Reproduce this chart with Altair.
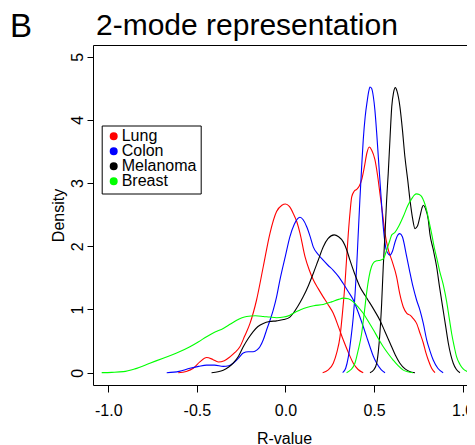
import altair as alt
import pandas as pd

# ---- data ----
groups = ["Lung", "Colon", "Melanoma", "Breast"]
colors = ["#FF0000", "#0000FF", "#000000", "#00FF00"]

lung_low_x = [-0.605, -0.56, -0.52, -0.483, -0.445, -0.41, -0.379, -0.345, -0.313, -0.285, -0.257, -0.23, -0.2, -0.163, -0.125, -0.087, -0.05, -0.02, 0.0, 0.022, 0.044, 0.065, 0.082, 0.11, 0.135, 0.157, 0.185, 0.213, 0.24, 0.27, 0.30, 0.326, 0.355, 0.383, 0.41, 0.439]
lung_low_y = [0, 0.02, 0.07, 0.17, 0.24, 0.21, 0.17, 0.19, 0.25, 0.32, 0.41, 0.58, 0.78, 1.15, 1.68, 2.21, 2.55, 2.65, 2.67, 2.63, 2.52, 2.38, 2.21, 1.84, 1.62, 1.47, 1.33, 1.2, 1.08, 0.94, 0.72, 0.52, 0.32, 0.15, 0.05, 0]

lung_high_x = [0.21, 0.24, 0.27, 0.29, 0.308, 0.322, 0.336, 0.345, 0.355, 0.365, 0.374, 0.388, 0.402, 0.416, 0.43, 0.445, 0.46, 0.473, 0.487, 0.505, 0.52, 0.533, 0.548, 0.562, 0.58, 0.60, 0.627, 0.645, 0.665, 0.685, 0.703, 0.72, 0.74, 0.76, 0.778, 0.792, 0.806, 0.825, 0.844]
lung_high_y = [0, 0.04, 0.15, 0.32, 0.57, 0.95, 1.41, 1.8, 2.21, 2.55, 2.78, 2.87, 2.9, 2.95, 3.05, 3.25, 3.48, 3.57, 3.52, 3.37, 3.12, 2.84, 2.52, 2.2, 1.95, 1.78, 1.52, 1.25, 1.04, 0.94, 0.91, 0.86, 0.78, 0.62, 0.47, 0.32, 0.2, 0.07, 0]

colon_low_x = [-0.67, -0.6, -0.539, -0.49, -0.445, -0.40, -0.351, -0.32, -0.295, -0.265, -0.238, -0.21, -0.182, -0.16, -0.144, -0.125, -0.106, -0.087, -0.069, -0.05, -0.031, 0.0, 0.025, 0.05, 0.082, 0.10, 0.12, 0.14, 0.157, 0.185, 0.213, 0.24, 0.27, 0.30, 0.326, 0.355, 0.383, 0.41, 0.439, 0.458, 0.477, 0.496, 0.515, 0.54, 0.562]
colon_low_y = [0, 0.02, 0.07, 0.1, 0.12, 0.12, 0.1, 0.11, 0.15, 0.23, 0.31, 0.33, 0.33, 0.36, 0.41, 0.52, 0.68, 0.83, 0.99, 1.2, 1.47, 1.85, 2.15, 2.35, 2.46, 2.42, 2.31, 2.15, 1.99, 1.87, 1.78, 1.7, 1.62, 1.52, 1.41, 1.28, 1.15, 0.96, 0.73, 0.57, 0.41, 0.26, 0.15, 0.05, 0]

colon_high_x = [0.323, 0.34, 0.355, 0.37, 0.383, 0.393, 0.402, 0.41, 0.42, 0.43, 0.439, 0.45, 0.462, 0.47, 0.477, 0.486, 0.496, 0.505, 0.515, 0.524, 0.533, 0.543, 0.552, 0.562, 0.575, 0.59, 0.605, 0.62, 0.635, 0.646, 0.66, 0.684, 0.70, 0.72, 0.74, 0.759, 0.778, 0.797, 0.815, 0.834, 0.86, 0.89]
colon_high_y = [0, 0.07, 0.25, 0.55, 0.89, 1.25, 1.68, 2.15, 2.73, 3.25, 3.68, 4.05, 4.31, 4.45, 4.52, 4.5, 4.37, 4.15, 3.79, 3.42, 3.05, 2.65, 2.31, 2.05, 1.9, 1.86, 1.93, 2.08, 2.18, 2.2, 2.15, 1.84, 1.62, 1.36, 1.15, 0.99, 0.78, 0.52, 0.35, 0.2, 0.07, 0]

mel_low_x = [-0.417, -0.38, -0.351, -0.32, -0.295, -0.265, -0.238, -0.21, -0.182, -0.155, -0.125, -0.09, -0.05, -0.01, 0.025, 0.044, 0.07, 0.1, 0.13, 0.157, 0.185, 0.213, 0.24, 0.275, 0.30, 0.326, 0.345, 0.364, 0.39, 0.42, 0.45, 0.477, 0.505, 0.533, 0.56, 0.59, 0.62, 0.646, 0.675, 0.70, 0.731]
mel_low_y = [0, 0.015, 0.04, 0.09, 0.15, 0.26, 0.41, 0.54, 0.65, 0.73, 0.78, 0.81, 0.82, 0.84, 0.88, 0.94, 1.05, 1.2, 1.38, 1.57, 1.78, 1.99, 2.12, 2.18, 2.15, 2.07, 1.95, 1.78, 1.57, 1.36, 1.22, 1.1, 0.97, 0.83, 0.66, 0.47, 0.28, 0.15, 0.06, 0.02, 0]

mel_high_x = [0.477, 0.50, 0.515, 0.524, 0.533, 0.543, 0.552, 0.562, 0.571, 0.58, 0.59, 0.60, 0.61, 0.62, 0.63, 0.646, 0.66, 0.674, 0.69, 0.703, 0.717, 0.731, 0.745, 0.759, 0.77, 0.778, 0.79, 0.806, 0.815, 0.834, 0.853, 0.87, 0.89, 0.905, 0.919, 0.933, 0.947, 0.965, 0.985]
mel_high_y = [0, 0.05, 0.15, 0.33, 0.62, 1.1, 1.68, 2.2, 2.73, 3.15, 3.7, 4.21, 4.43, 4.51, 4.45, 4.21, 3.85, 3.42, 3.05, 2.73, 2.45, 2.28, 2.32, 2.47, 2.6, 2.65, 2.6, 2.42, 2.2, 1.95, 1.68, 1.35, 0.99, 0.72, 0.47, 0.28, 0.15, 0.05, 0]

breast_low_x = [-1.037, -0.98, -0.915, -0.85, -0.765, -0.69, -0.614, -0.539, -0.49, -0.445, -0.40, -0.351, -0.31, -0.275, -0.245, -0.219, -0.17, -0.125, -0.09, -0.05, -0.01, 0.025, 0.05, 0.082, 0.12, 0.16, 0.213, 0.26, 0.30, 0.326, 0.355, 0.383, 0.41, 0.439, 0.468, 0.496, 0.524, 0.552, 0.58, 0.608, 0.636, 0.665, 0.69, 0.72]
breast_low_y = [0, 0.005, 0.016, 0.06, 0.15, 0.23, 0.31, 0.41, 0.49, 0.57, 0.64, 0.70, 0.77, 0.83, 0.87, 0.89, 0.90, 0.89, 0.88, 0.87, 0.88, 0.91, 0.95, 0.99, 1.03, 1.06, 1.08, 1.12, 1.16, 1.18, 1.17, 1.12, 1.04, 0.94, 0.81, 0.68, 0.54, 0.41, 0.30, 0.20, 0.11, 0.04, 0.015, 0]

breast_high_x = [0.345, 0.37, 0.392, 0.41, 0.43, 0.445, 0.458, 0.472, 0.486, 0.50, 0.515, 0.535, 0.552, 0.57, 0.59, 0.60, 0.618, 0.64, 0.665, 0.69, 0.712, 0.727, 0.74, 0.755, 0.768, 0.783, 0.797, 0.81, 0.825, 0.84, 0.855, 0.871, 0.89, 0.91, 0.925, 0.938, 0.952, 0.966, 0.985, 1.003, 1.025, 1.05]
breast_high_y = [0, 0.05, 0.15, 0.35, 0.62, 0.95, 1.26, 1.52, 1.68, 1.75, 1.77, 1.78, 1.8, 1.93, 2.1, 2.18, 2.22, 2.32, 2.47, 2.64, 2.75, 2.81, 2.83, 2.82, 2.79, 2.7, 2.57, 2.4, 2.2, 1.98, 1.8, 1.6, 1.4, 1.12, 0.85, 0.62, 0.42, 0.25, 0.13, 0.06, 0.02, 0]

x_ticks = [-1.0, -0.5, 0.0, 0.5, 1.0]
y_ticks = [0, 1, 2, 3, 4, 5]

panel_label = ["B"]
main_title = ["2-mode representation"]

curves = [
    ("Lung", "Lung-low", lung_low_x, lung_low_y),
    ("Lung", "Lung-high", lung_high_x, lung_high_y),
    ("Colon", "Colon-low", colon_low_x, colon_low_y),
    ("Colon", "Colon-high", colon_high_x, colon_high_y),
    ("Melanoma", "Melanoma-low", mel_low_x, mel_low_y),
    ("Melanoma", "Melanoma-high", mel_high_x, mel_high_y),
    ("Breast", "Breast-low", breast_low_x, breast_low_y),
    ("Breast", "Breast-high", breast_high_x, breast_high_y),
]

rows = []
for g, cid, xs, ys in curves:
    for xv, yv in zip(xs, ys):
        rows.append({"group": g, "curve": cid, "r": xv, "density": yv})
df = pd.DataFrame(rows)

FONT = "Liberation Sans"

lines = alt.Chart(df).mark_line(strokeWidth=1.1, interpolate="monotone").encode(
    x=alt.X("r:Q", scale=alt.Scale(domain=[-1.086, 1.0754], nice=False, zero=False),
            axis=alt.Axis(values=x_ticks, title="R-value",
                          labelExpr="replace(format(datum.value, '.1f'), '\u2212', '-')",
                          tickSize=7, labelPadding=23, labelBaseline="alphabetic",
                          titleX=191, titleY=58, titleBaseline="alphabetic", titleAlign="center")),
    y=alt.Y("density:Q", scale=alt.Scale(domain=[-0.195, 5.185], nice=False, zero=False),
            axis=alt.Axis(values=y_ticks, title="Density", format="d",
                          labelAngle=-90, labelAlign="center", labelBaseline="alphabetic",
                          tickSize=6, labelPadding=5,
                          titleAngle=-90, titleX=-30, titleY=170, titleBaseline="alphabetic",
                          titleAlign="center")),
    color=alt.Color("group:N", scale=alt.Scale(domain=groups, range=colors),
                    legend=alt.Legend(title=None, orient="none", legendX=8.7, legendY=80.5,
                                      direction="vertical", strokeColor="black", fillColor="white",
                                      padding=4, symbolType="circle", symbolSize=16,
                                      symbolStrokeWidth=4,
                                      labelFontSize=16, labelFont=FONT,
                                      labelColor="black", labelOffset=0, rowPadding=-3.7,
                                      clipHeight=13.6, cornerRadius=0)),
    detail="curve:N",
)

panel = alt.Chart(pd.DataFrame({"t": panel_label})).mark_text(
    font=FONT, fontSize=33, align="left", baseline="alphabetic", color="black"
).encode(text="t:N", x=alt.value(-83), y=alt.value(-7.7))

title = alt.Chart(pd.DataFrame({"t": main_title})).mark_text(
    font=FONT, fontSize=30, align="left", baseline="alphabetic", color="black"
).encode(text="t:N", x=alt.value(3), y=alt.value(-10))

chart = alt.layer(lines, panel, title).properties(
    width=383, height=340,
    autosize=alt.AutoSizeParams(type="none"),
    padding={"left": 85, "top": 37, "right": -9, "bottom": 60},
).configure_view(stroke="black", strokeWidth=1).configure_axis(
    labelFont=FONT, labelFontSize=16, labelColor="black", tickColor="black", tickWidth=1,
    titleFont=FONT, titleFontSize=16, titleFontWeight="normal", titleColor="black",
    grid=False, domain=False,
)

chart.save("out.html", embed_options={"renderer": "svg", "actions": False})
